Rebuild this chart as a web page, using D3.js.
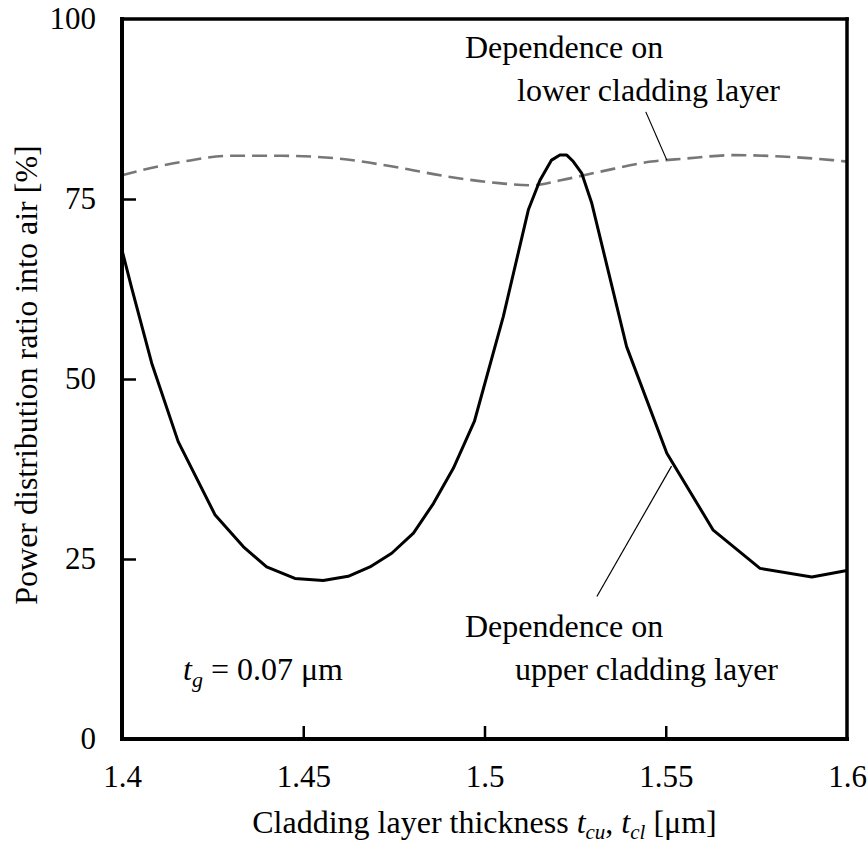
<!DOCTYPE html>
<html>
<head>
<meta charset="utf-8">
<script src="https://cdn.jsdelivr.net/npm/d3@7"></script>
<style>
  html, body { margin: 0; padding: 0; background: #fff; }
  svg { display: block; }
  text { fill: #000; }
</style>
</head>
<body>
<svg id="chart" width="868" height="843"></svg>
<script>
// ---- data ----
const xTicks = [1.4, 1.45, 1.5, 1.55, 1.6];
const xTickLabels = ["1.4", "1.45", "1.5", "1.55", "1.6"];
const yTicks = [0, 25, 50, 75, 100];
const yTickLabels = ["0", "25", "50", "75", "100"];

// Dependence on upper cladding layer (solid)
const upperX = [1.400, 1.4027, 1.4082, 1.4155, 1.4257, 1.4335, 1.4399, 1.4477, 1.4555, 1.4624, 1.4684, 1.4744, 1.4804, 1.4859, 1.4914, 1.4972, 1.5052, 1.5121, 1.5153, 1.5185, 1.5208, 1.5227, 1.5245, 1.5268, 1.5296, 1.5392, 1.5503, 1.5631, 1.5760, 1.5903, 1.600];
const upperY = [67.9, 62.6, 52.2, 41.3, 31.1, 26.7, 23.9, 22.3, 22.0, 22.6, 23.9, 25.8, 28.6, 32.7, 37.6, 44.1, 58.7, 73.5, 77.6, 80.4, 81.1, 81.1, 80.2, 78.6, 74.4, 54.5, 39.7, 29.0, 23.7, 22.5, 23.4];

// Dependence on lower cladding layer (dashed)
const lowerX = [1.400, 1.408, 1.417, 1.430, 1.444, 1.460, 1.477, 1.490, 1.504, 1.513, 1.521, 1.532, 1.546, 1.555, 1.569, 1.582, 1.596, 1.600];
const lowerY = [78.3, 79.3, 80.2, 81.0, 81.0, 80.6, 79.3, 78.1, 77.2, 76.9, 77.6, 78.8, 80.2, 80.6, 81.1, 80.9, 80.4, 80.2];

// callout leader lines (data units): [x1, y1, x2, y2]
const leaderLower = [1.5445, 87.1, 1.5503, 80.4];
const leaderUpper = [1.5516, 37.9, 1.5310, 19.8];

// ---- chart ----
const FONT = "'Liberation Serif', 'Times New Roman', Times, Tinos, 'Nimbus Roman', 'DejaVu Serif', serif";
const svg = d3.select("#chart");
const mLeft = 122, mRight = 847, mTop = 19, mBottom = 739;
const x = d3.scaleLinear().domain([1.4, 1.6]).range([mLeft, mRight]);
const y = d3.scaleLinear().domain([0, 100]).range([mBottom, mTop]);

const lowerData = lowerX.map((v, i) => [v, lowerY[i]]);
const upperData = upperX.map((v, i) => [v, upperY[i]]);

svg.append("path").datum(lowerData)
  .attr("d", d3.line().x(d => x(d[0])).y(d => y(d[1])).curve(d3.curveMonotoneX))
  .attr("fill", "none").attr("stroke", "#777")
  .attr("stroke-width", 2.6).attr("stroke-dasharray", "15,7");

svg.append("path").datum(upperData)
  .attr("d", d3.line().x(d => x(d[0])).y(d => y(d[1])))
  .attr("fill", "none").attr("stroke", "#000")
  .attr("stroke-width", 3).attr("stroke-linejoin", "round");

// leaders
[leaderLower, leaderUpper].forEach(l => {
  svg.append("line")
    .attr("x1", x(l[0])).attr("y1", y(l[1]))
    .attr("x2", x(l[2])).attr("y2", y(l[3]))
    .attr("stroke", "#000").attr("stroke-width", 1.2);
});

// axes
const xAxis = d3.axisBottom(x).tickValues(xTicks)
  .tickFormat((d, i) => xTickLabels[i]).tickSizeInner(-13).tickSizeOuter(0).tickPadding(26);
const gx = svg.append("g").attr("transform", `translate(0,${mBottom})`).call(xAxis);
gx.attr("font-family", FONT).attr("font-size", 31);
gx.select(".domain").remove();
gx.selectAll(".tick line").attr("stroke", "#000").attr("stroke-width", 2.5);
gx.selectAll(".tick text").attr("fill", "#000");
gx.selectAll(".tick").filter((d, i) => i === 0 || i === xTicks.length - 1).select("line").remove();

const yAxis = d3.axisLeft(y).tickValues(yTicks)
  .tickFormat((d, i) => yTickLabels[i]).tickSizeInner(-14).tickSizeOuter(0).tickPadding(26);
const gy = svg.append("g").attr("transform", `translate(${mLeft},0)`).call(yAxis);
gy.attr("font-family", FONT).attr("font-size", 31);
gy.select(".domain").remove();
gy.selectAll(".tick line").attr("stroke", "#000").attr("stroke-width", 2.5);
gy.selectAll(".tick text").attr("fill", "#000");
gy.selectAll(".tick").filter((d, i) => i === 0 || i === yTicks.length - 1).select("line").remove();

// frame
const frame = svg.append("g").attr("stroke", "#000").attr("stroke-linecap", "square");
frame.append("line").attr("x1", mLeft).attr("y1", mTop).attr("x2", mLeft).attr("y2", mBottom).attr("stroke-width", 4);
frame.append("line").attr("x1", mLeft).attr("y1", mBottom).attr("x2", mRight).attr("y2", mBottom).attr("stroke-width", 4);
frame.append("line").attr("x1", mLeft).attr("y1", mTop).attr("x2", mRight).attr("y2", mTop).attr("stroke-width", 3.5);
frame.append("line").attr("x1", mRight).attr("y1", mTop).attr("x2", mRight).attr("y2", mBottom).attr("stroke-width", 3.5);

// text layer
const fs = 32;
const tl = svg.append("g").attr("font-family", FONT).attr("font-size", fs);

const xt = tl.append("text").attr("x", (mLeft + mRight) / 2).attr("y", 833).attr("text-anchor", "middle");
xt.append("tspan").text("Cladding layer thickness ");
xt.append("tspan").attr("font-style", "italic").text("t");
xt.append("tspan").attr("font-style", "italic").attr("font-size", 21).attr("dy", 6).text("cu");
xt.append("tspan").attr("dy", -6).text(", ");
xt.append("tspan").attr("font-style", "italic").text("t");
xt.append("tspan").attr("font-style", "italic").attr("font-size", 21).attr("dy", 6).text("cl");
xt.append("tspan").attr("dy", -6).text(" [\u03bcm]");

tl.append("text")
  .attr("transform", `translate(37,375) rotate(-90)`)
  .attr("text-anchor", "middle")
  .text("Power distribution ratio into air [%]");

tl.append("text").attr("x", 465).attr("y", 58).text("Dependence on");
tl.append("text").attr("x", 517).attr("y", 101).text("lower cladding layer");
tl.append("text").attr("x", 465).attr("y", 637).text("Dependence on");
tl.append("text").attr("x", 515).attr("y", 680).text("upper cladding layer");

const tg = tl.append("text").attr("x", 183).attr("y", 680);
tg.append("tspan").attr("font-style", "italic").text("t");
tg.append("tspan").attr("font-style", "italic").attr("font-size", 22).attr("dy", 7).text("g");
tg.append("tspan").attr("dy", -7).text(" = 0.07 \u03bcm");
</script>
</body>
</html>
